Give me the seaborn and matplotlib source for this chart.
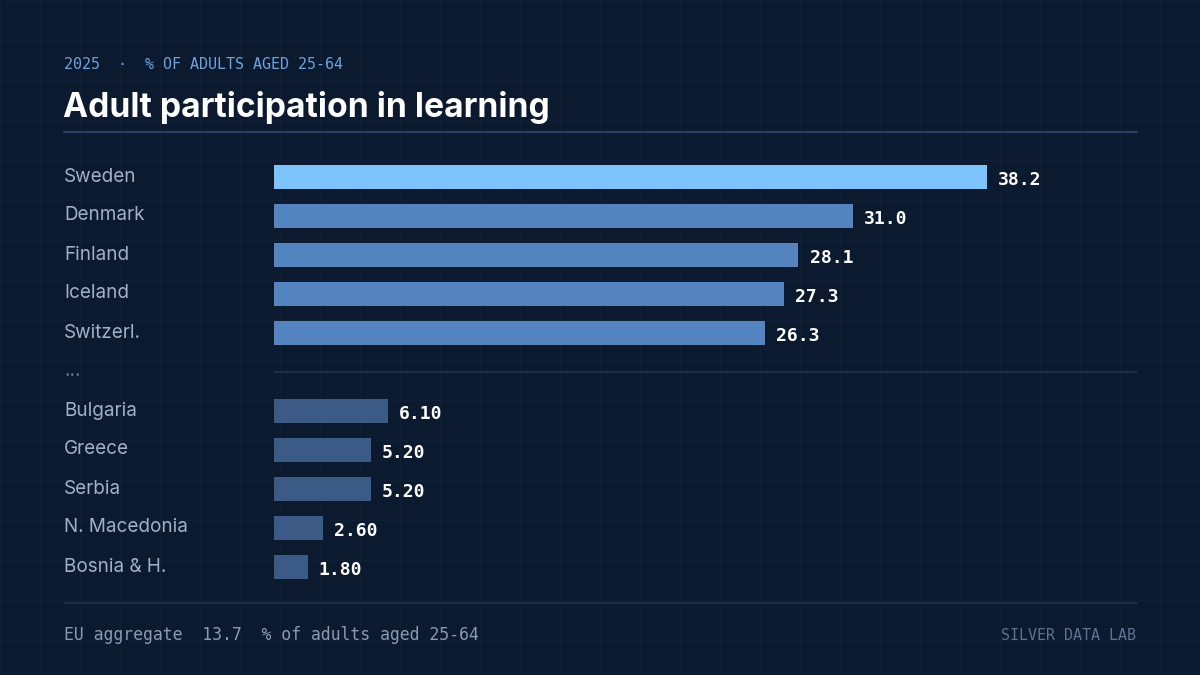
import pandas as pd
import matplotlib.pyplot as plt
import matplotlib.transforms as mtransforms
import seaborn as sns

# data
countries_top = ["Sweden", "Denmark", "Finland", "Iceland", "Switzerl."]
values_top = [38.2, 31.0, 28.1, 27.3, 26.3]
countries_bottom = ["Bulgaria", "Greece", "Serbia", "N. Macedonia", "Bosnia & H."]
values_bottom = [6.10, 5.20, 5.20, 2.60, 1.80]
gap_label = "..."
eu_value = 13.7

subtitle = "2025  ·  % OF ADULTS AGED 25-64"
title = "Adult participation in learning"
footer_left = f"EU aggregate  {eu_value}  % of adults aged 25-64"
footer_right = "SILVER DATA LAB"

# colours
BG = "#0c1a30"
GRID = "#111f36"
RULE = "#2b3f63"
RULE2 = "#22344f"
LABEL = "#a3b1c8"
DIM = "#6b7a93"
SUB = "#6fa3db"
FOOT = "#8a9ab3"
FOOT2 = "#5f7291"
palette = {"lead": "#7dc3fd", "top": "#5484bf", "bottom": "#3b5a86"}
MONO = "DejaVu Sans Mono"

sns.set_style("white")
plt.rcParams["font.family"] = ["Inter", "DejaVu Sans"]

df = pd.DataFrame({
    "country": countries_top + countries_bottom,
    "value": values_top + values_bottom,
    "group": ["lead"] + ["top"] * (len(countries_top) - 1) + ["bottom"] * len(countries_bottom),
})
order = countries_top + [gap_label] + countries_bottom

W, H = 1200, 675
fig = plt.figure(figsize=(12, 6.75), dpi=100)
fig.patch.set_facecolor(BG)

# background layer in pixel coordinates
bg = fig.add_axes([0, 0, 1, 1])
bg.set_xlim(0, W)
bg.set_ylim(H, 0)
bg.axis("off")
for x in range(0, W + 1, 40):
    bg.axvline(x, color=GRID, lw=0.8, zorder=0)
for y in range(0, H + 1, 40):
    bg.axhline(y, color=GRID, lw=0.8, zorder=0)

bg.text(64, 69, subtitle, color=SUB, fontsize=10.8, family=MONO, va="baseline")
bg.text(63, 117, title, color="white", fontsize=24.2, weight="bold", va="baseline")
bg.plot([64, 1137], [132, 132], color=RULE, lw=1.5)
bg.plot([64, 1137], [603, 603], color=RULE2, lw=1.2)
bg.text(64, 640, footer_left, color=FOOT, fontsize=11.9, family=MONO, va="baseline")
bg.text(1136, 640, footer_right, color=FOOT2, fontsize=10.8, family=MONO,
        va="baseline", ha="right")

# bar axes
px_per_unit = (987 - 274) / 38.2
top, bottom = 157.5, 586.5
ax = fig.add_axes([274 / W, 1 - bottom / H, (1137 - 274) / W, (bottom - top) / H])
ax.patch.set_alpha(0)
sns.barplot(data=df, x="value", y="country", order=order, hue="group",
            palette=palette, saturation=1, width=0.59, linewidth=0,
            legend=False, ax=ax)
ax.set_xlim(0, (1137 - 274) / px_per_unit)
ax.set_xlabel("")
ax.set_ylabel("")
ax.set_xticks([])
sns.despine(ax=ax, left=True, bottom=True)

ax.tick_params(axis="y", length=0, pad=(274 - 64) * 0.72, labelsize=13.6, labelcolor=LABEL)
lift = mtransforms.ScaledTranslation(0, 2.5 / 100, fig.dpi_scale_trans)
for lab in ax.get_yticklabels():
    lab.set_ha("left")
    lab.set_transform(lab.get_transform() + lift)
    if lab.get_text() == gap_label:
        lab.set_color(DIM)

ax.axhline(order.index(gap_label), color=RULE2, lw=1.2)

for c, v in zip(df["country"], df["value"]):
    ax.annotate(f"{v:#.3g}", xy=(v, order.index(c)), xytext=(8, -2),
                textcoords="offset points", va="center", ha="left",
                family=MONO, weight="bold", fontsize=13, color="white")

fig.savefig("out.png", dpi=100, facecolor=BG)
